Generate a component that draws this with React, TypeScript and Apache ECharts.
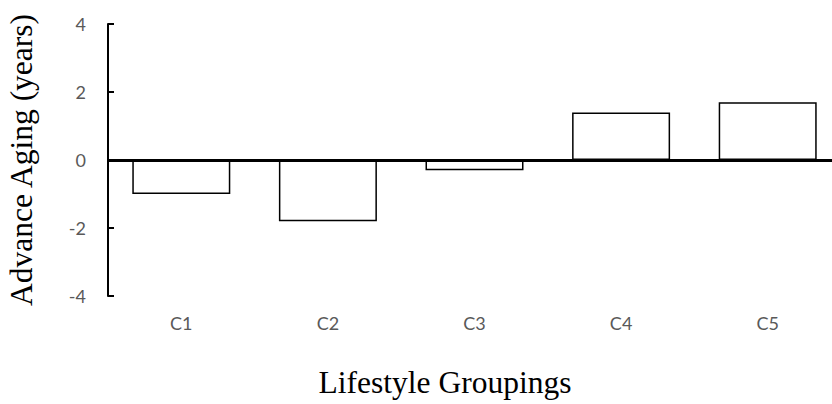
import React, { useEffect, useRef } from "react";
import * as echarts from "echarts";

const categories = ["C1", "C2", "C3", "C4", "C5"];
const values = [-1.0, -1.8, -0.3, 1.4, 1.7];
const yMin = -4;
const yMax = 4;
const yInterval = 2;
const xTitle = "Lifestyle Groupings";
const yTitle = "Advance Aging (years)";

export default function App() {
  const ref = useRef<HTMLDivElement>(null);
  useEffect(() => {
    document.body.style.margin = "0";
    if (!ref.current) return;
    const chart = echarts.init(ref.current, null, { renderer: "svg" });
    chart.setOption({
      animation: false,
      backgroundColor: "#ffffff",
      grid: {
        left: 108,
        right: -9,
        top: 24,
        bottom: 108,
        containLabel: false,
        outerBoundsMode: "none",
      },
      graphic: [
        {
          type: "text",
          x: 445,
          y: 382,
          style: {
            text: xTitle,
            fontFamily: "Liberation Serif",
            fontSize: 31.5,
            fill: "#000",
            align: "center",
            verticalAlign: "middle",
          },
        },
      ],
      xAxis: {
        type: "category",
        data: categories,
        axisLine: { show: false, onZero: false },
        axisTick: { show: false },
        axisLabel: { color: "#595959", fontFamily: "Lato", fontSize: 18, margin: 18 },
      },
      yAxis: {
        type: "value",
        min: yMin,
        max: yMax,
        interval: yInterval,
        name: yTitle,
        nameLocation: "middle",
        nameRotate: 90,
        nameGap: 71,
        nameTextStyle: { fontFamily: "Liberation Serif", fontSize: 31.5, color: "#000" },
        axisLine: { show: true, lineStyle: { color: "#000", width: 2 } },
        axisTick: { show: true, inside: true, length: 6, lineStyle: { color: "#000", width: 2 } },
        axisLabel: { color: "#595959", fontFamily: "Lato", fontSize: 18, margin: 22 },
        splitLine: { show: false },
      },
      series: [
        {
          type: "bar",
          data: values,
          barWidth: 98,
          itemStyle: { color: "#ffffff", borderColor: "#000", borderWidth: 1.5 },
          markLine: {
            silent: true,
            symbol: "none",
            label: { show: false },
            lineStyle: { color: "#000", width: 3, type: "solid" },
            data: [{ yAxis: 0 }],
          },
        },
      ],
    });
    return () => chart.dispose();
  }, []);
  return <div ref={ref} style={{ width: 832, height: 404 }} />;
}
